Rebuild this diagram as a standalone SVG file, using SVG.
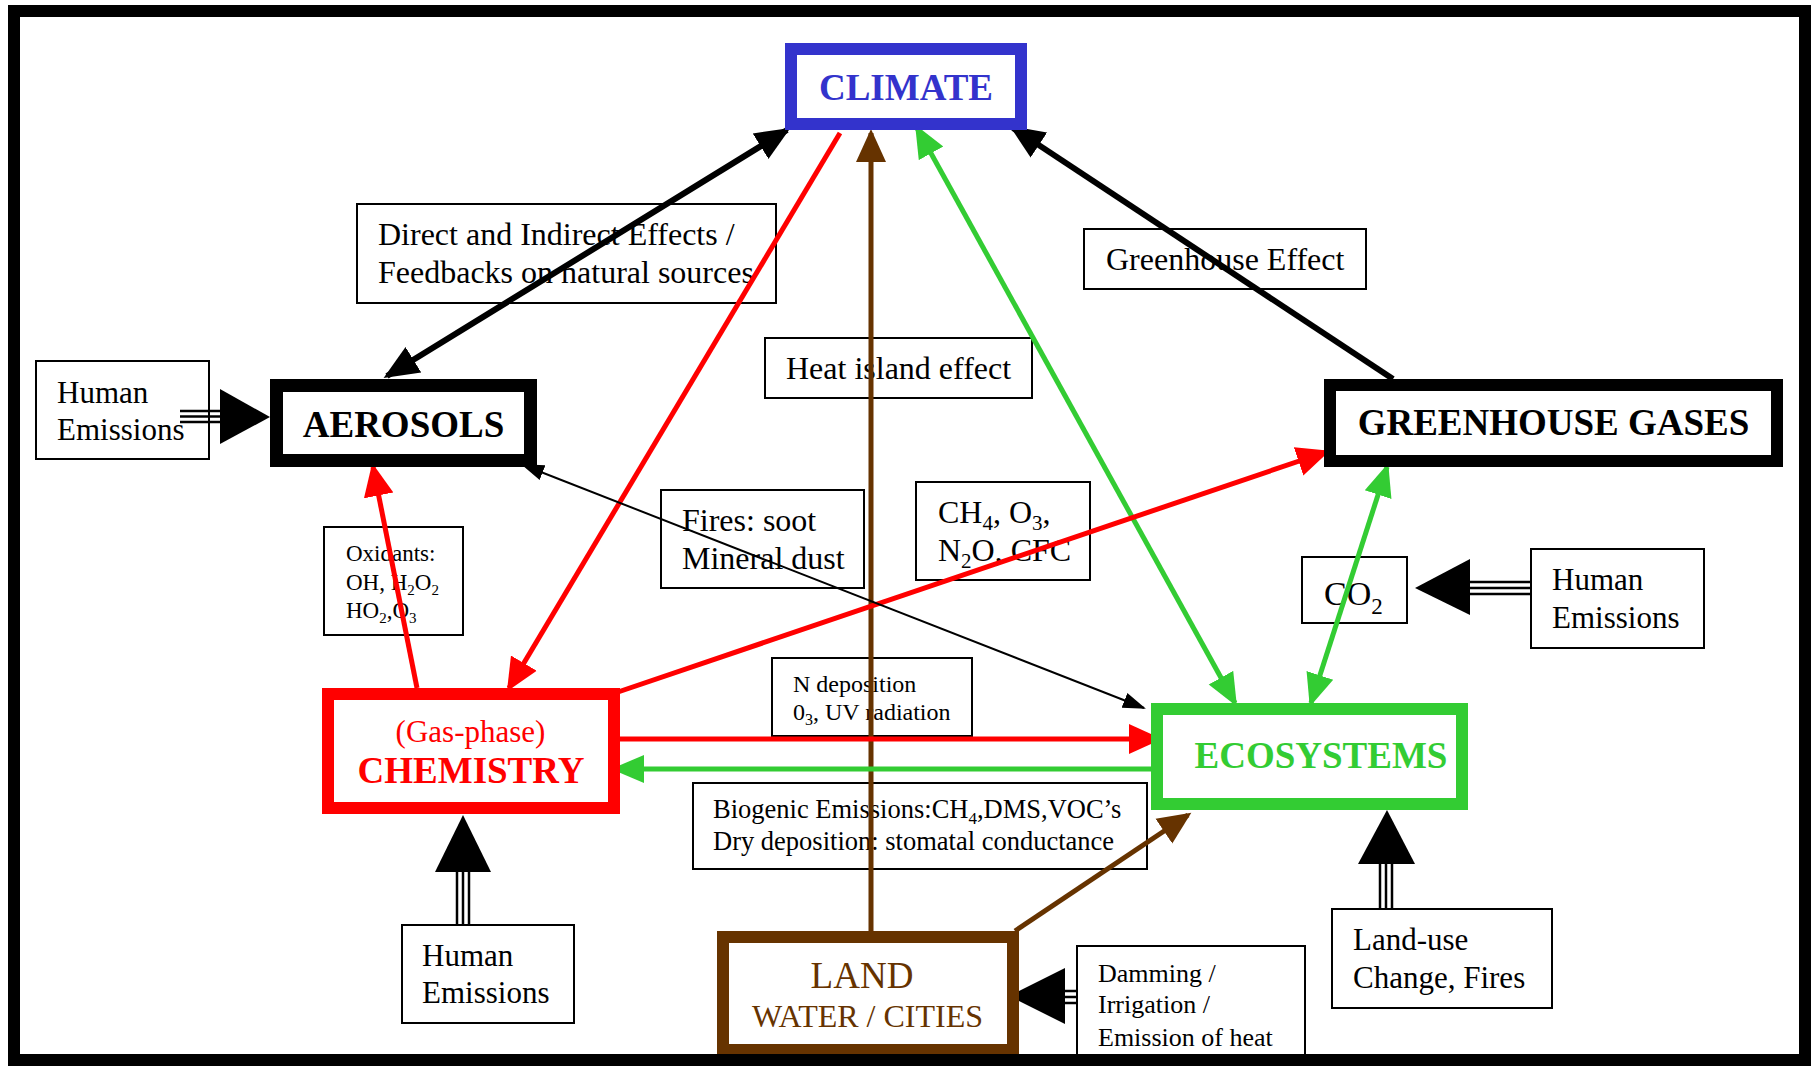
<svg xmlns="http://www.w3.org/2000/svg" width="1812" height="1066" viewBox="0 0 1812 1066">
<style>
text{font-family:"Liberation Serif","Times New Roman",serif;fill:#000}
.lbl{fill:#fff;stroke:#000;stroke-width:2}
.t32{font-size:32px}
.big{font-size:37px;font-weight:bold;text-anchor:middle}
.node{fill:#fff}
.conn{fill:none;stroke-linecap:butt}
</style>
<defs>
<marker id="ahK" markerUnits="userSpaceOnUse" markerWidth="36" markerHeight="32" refX="31" refY="16" orient="auto-start-reverse"><path d="M0,1 L35,16 L0,31 Z" fill="#000"/></marker>
<marker id="ahR" markerUnits="userSpaceOnUse" markerWidth="34" markerHeight="32" refX="29" refY="16" orient="auto-start-reverse"><path d="M0,1 L33,16 L0,31 Z" fill="#ff0000"/></marker>
<marker id="ahG" markerUnits="userSpaceOnUse" markerWidth="34" markerHeight="30" refX="29" refY="15" orient="auto-start-reverse"><path d="M0,1 L33,15 L0,29 Z" fill="#33cc33"/></marker>
<marker id="ahB" markerUnits="userSpaceOnUse" markerWidth="34" markerHeight="32" refX="29" refY="16" orient="auto-start-reverse"><path d="M0,1 L33,16 L0,31 Z" fill="#663300"/></marker>
<marker id="ahT" markerUnits="userSpaceOnUse" markerWidth="24" markerHeight="18" refX="21" refY="9" orient="auto-start-reverse"><path d="M0,1 L23,9 L0,17 Z" fill="#000"/></marker>
</defs>
<rect x="0" y="0" width="1812" height="1066" fill="#fff"/>

<!-- label boxes -->
<g id="lbl-direct"><rect class="lbl" x="357" y="204" width="419" height="99"/>
<text class="t32" x="378" y="245">Direct and Indirect Effects /</text>
<text class="t32" x="378" y="283">Feedbacks on natural sources</text></g>
<g id="lbl-heat"><rect class="lbl" x="765" y="338" width="267" height="60"/>
<text class="t32" x="786" y="379">Heat island effect</text></g>
<g id="lbl-ghe"><rect class="lbl" x="1084" y="229" width="282" height="60"/>
<text class="t32" x="1106" y="270">Greenhouse Effect</text></g>
<g id="lbl-human-aer"><rect class="lbl" x="36" y="361" width="173" height="98"/>
<text font-size="31" x="57" y="403">Human</text>
<text font-size="31" x="57" y="440">Emissions</text></g>
<g id="lbl-oxid"><rect class="lbl" x="324" y="527" width="139" height="108"/>
<text font-size="23" x="346" y="561">Oxidants:</text>
<text font-size="23" x="346" y="590">OH, H<tspan font-size="15" dy="5">2</tspan><tspan dy="-5">O</tspan><tspan font-size="15" dy="5">2</tspan></text>
<text font-size="23" x="346" y="618">HO<tspan font-size="15" dy="5">2</tspan><tspan dy="-5">,O</tspan><tspan font-size="15" dy="5">3</tspan></text></g>
<g id="lbl-fires"><rect class="lbl" x="661" y="490" width="203" height="98"/>
<text class="t32" x="682" y="531">Fires: soot</text>
<text class="t32" x="682" y="569">Mineral dust</text></g>
<g id="lbl-ch4"><rect class="lbl" x="916" y="482" width="174" height="98"/>
<text class="t32" x="938" y="523">CH<tspan font-size="21" dy="7">4</tspan><tspan dy="-7">, O</tspan><tspan font-size="21" dy="7">3</tspan><tspan dy="-7">,</tspan></text>
<text class="t32" x="938" y="561">N<tspan font-size="21" dy="7">2</tspan><tspan dy="-7">O, CFC</tspan></text></g>
<g id="lbl-co2"><rect class="lbl" x="1302" y="557" width="105" height="66"/>
<text font-size="34" x="1324" y="605">CO<tspan font-size="23" dy="9">2</tspan></text></g>
<g id="lbl-human-ghg"><rect class="lbl" x="1531" y="549" width="173" height="99"/>
<text font-size="31" x="1552" y="590">Human</text>
<text font-size="31" x="1552" y="628">Emissions</text></g>
<g id="lbl-ndep"><rect class="lbl" x="772" y="658" width="200" height="78"/>
<text font-size="24" x="793" y="692">N deposition</text>
<text font-size="24" x="793" y="720">0<tspan font-size="16" dy="5">3</tspan><tspan dy="-5">, UV radiation</tspan></text></g>
<g id="lbl-bio"><rect class="lbl" x="693" y="783" width="454" height="86"/>
<text font-size="26.5" x="713" y="818">Biogenic Emissions:CH<tspan font-size="17" dy="6">4</tspan><tspan dy="-6">,DMS,VOC’s</tspan></text>
<text font-size="26.5" x="713" y="850">Dry deposition: stomatal conductance</text></g>
<g id="lbl-human-chem"><rect class="lbl" x="402" y="925" width="172" height="98"/>
<text font-size="31" x="422" y="966">Human</text>
<text font-size="31" x="422" y="1003">Emissions</text></g>
<g id="lbl-damming"><rect class="lbl" x="1077" y="946" width="228" height="124"/>
<text font-size="26" x="1098" y="982">Damming /</text>
<text font-size="26" x="1098" y="1013">Irrigation /</text>
<text font-size="26" x="1098" y="1046">Emission of heat</text></g>
<g id="lbl-landuse"><rect class="lbl" x="1332" y="909" width="220" height="99"/>
<text font-size="31" x="1353" y="950">Land-use</text>
<text font-size="31" x="1353" y="988">Change, Fires</text></g>

<!-- connectors -->
<g id="connectors" class="conn">
<line x1="387" y1="376" x2="787" y2="130" stroke="#000" stroke-width="6" marker-start="url(#ahK)" marker-end="url(#ahK)"/>
<line x1="1393" y1="379" x2="1013" y2="128" stroke="#000" stroke-width="6" marker-end="url(#ahK)"/>
<line x1="840" y1="133" x2="509" y2="688" stroke="#ff0000" stroke-width="5" marker-end="url(#ahR)"/>
<line x1="871" y1="931" x2="871" y2="133" stroke="#663300" stroke-width="5" marker-end="url(#ahB)"/>
<line x1="1235" y1="703" x2="917" y2="128" stroke="#33cc33" stroke-width="5" marker-start="url(#ahG)" marker-end="url(#ahG)"/>
<line x1="1311" y1="703" x2="1387" y2="467" stroke="#33cc33" stroke-width="5" marker-start="url(#ahG)" marker-end="url(#ahG)"/>
<line x1="417" y1="688" x2="373" y2="467" stroke="#ff0000" stroke-width="5" marker-end="url(#ahR)"/>
<line x1="618" y1="692" x2="1326" y2="452" stroke="#ff0000" stroke-width="5" marker-end="url(#ahR)"/>
<line x1="523" y1="465" x2="1144" y2="708" stroke="#000" stroke-width="2" marker-start="url(#ahT)" marker-end="url(#ahT)"/>
<line x1="620" y1="739" x2="1158" y2="739" stroke="#ff0000" stroke-width="5" marker-end="url(#ahR)"/>
<line x1="1151" y1="769" x2="615" y2="769" stroke="#33cc33" stroke-width="5" marker-end="url(#ahG)"/>
<line x1="1015" y1="931" x2="1188" y2="815" stroke="#663300" stroke-width="5" marker-end="url(#ahB)"/>
<!-- triple-line input arrows -->
<g id="in-aerosols" stroke="#000" stroke-width="2.5">
<line x1="180" y1="411" x2="222" y2="411"/><line x1="180" y1="416.5" x2="222" y2="416.5"/><line x1="180" y1="422" x2="222" y2="422"/>
<polygon points="220,389 270,417 220,444" fill="#000" stroke="none"/></g>
<g id="in-chemistry" stroke="#000" stroke-width="2.5">
<line x1="457" y1="925" x2="457" y2="870"/><line x1="463" y1="925" x2="463" y2="870"/><line x1="469" y1="925" x2="469" y2="870"/>
<polygon points="435,872 491,872 463,815" fill="#000" stroke="none"/></g>
<g id="in-ecosystems" stroke="#000" stroke-width="2.5">
<line x1="1380" y1="909" x2="1380" y2="862"/><line x1="1386" y1="909" x2="1386" y2="862"/><line x1="1392" y1="909" x2="1392" y2="862"/>
<polygon points="1358,864 1415,864 1387,810" fill="#000" stroke="none"/></g>
<g id="in-co2" stroke="#000" stroke-width="2.5">
<line x1="1531" y1="582" x2="1468" y2="582"/><line x1="1531" y1="588" x2="1468" y2="588"/><line x1="1531" y1="594" x2="1468" y2="594"/>
<polygon points="1470,559 1470,615 1415,588" fill="#000" stroke="none"/></g>
<g id="in-land" stroke="#000" stroke-width="2.5">
<line x1="1077" y1="991" x2="1063" y2="991"/><line x1="1077" y1="997" x2="1063" y2="997"/><line x1="1077" y1="1003" x2="1063" y2="1003"/>
<polygon points="1065,968 1065,1024 1009,996" fill="#000" stroke="none"/></g>
</g>

<!-- main nodes -->
<g id="climate"><rect class="node" x="791" y="49" width="230" height="75" stroke="#3333cc" stroke-width="12"/>
<text class="big" x="906" y="100" fill="#3333cc" style="fill:#3333cc">CLIMATE</text></g>
<g id="aerosols"><rect class="node" x="276.5" y="385.5" width="254" height="75" stroke="#000" stroke-width="13"/>
<text class="big" x="403.5" y="437">AEROSOLS</text></g>
<g id="greenhouse-gases"><rect class="node" x="1330" y="385" width="447" height="76" stroke="#000" stroke-width="12"/>
<text class="big" x="1553.5" y="435">GREENHOUSE GASES</text></g>
<g id="chemistry"><rect class="node" x="328" y="694" width="286" height="114" stroke="#ff0000" stroke-width="12"/>
<text font-size="31" x="470.5" y="742" text-anchor="middle" style="fill:#ff0000">(Gas-phase)</text>
<text class="big" x="471" y="783" style="fill:#ff0000">CHEMISTRY</text></g>
<g id="ecosystems"><rect class="node" x="1157" y="709" width="305" height="95" stroke="#33cc33" stroke-width="12"/>
<text class="big" x="1321" y="768" style="fill:#33cc33">ECOSYSTEMS</text></g>
<g id="land"><rect class="node" x="723" y="937" width="290" height="113" stroke="#663300" stroke-width="12"/>
<text font-size="37" x="862" y="988" text-anchor="middle" style="fill:#663300">LAND</text>
<text font-size="32" x="867.5" y="1027" text-anchor="middle" style="fill:#663300">WATER / CITIES</text></g>

<!-- frame -->
<rect x="14" y="11" width="1791" height="1049" fill="none" stroke="#000" stroke-width="12"/>
</svg>
